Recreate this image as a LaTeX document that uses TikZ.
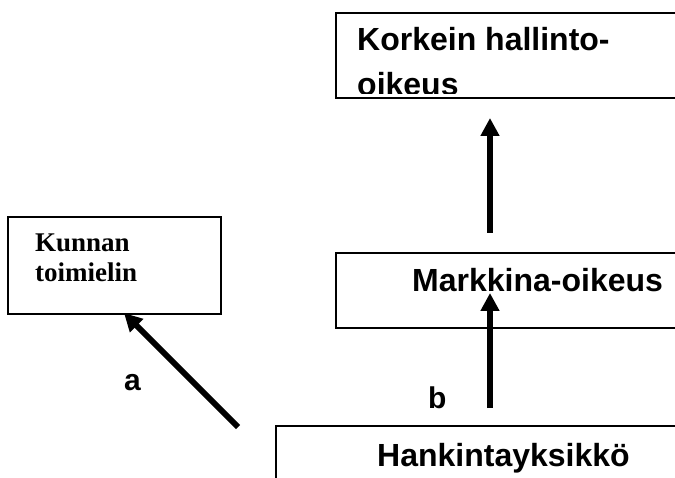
\documentclass[tikz,border=0pt]{standalone}
\usepackage{fontspec}
\setmainfont{Liberation Serif}
\setsansfont{Liberation Sans}
\usetikzlibrary{positioning,shapes,arrows.meta}

\begin{document}
\begin{tikzpicture}
            [x=1pt,y=-1pt,
             box/.style={draw, line width=1.8pt, anchor=north west, inner sep=0pt, outer sep=0pt},
             label/.style={anchor=base west, inner sep=0pt, font=\sffamily\bfseries\fontsize{32}{38}\selectfont},
             serif/.style={anchor=base west, inner sep=0pt, font=\rmfamily\bfseries\fontsize{27}{30}\selectfont},
             uparrow/.style={line width=6pt, -{Triangle[length=18pt,width=18pt]}}]
            \useasboundingbox (0,0) rectangle (675,478);
            \clip (0,0) rectangle (675,478);
            % boxes
            \node[box, minimum width=380pt, minimum height=85pt] (korkein) at (336,13) {};
            \node[box, line width=1.4pt, minimum width=213pt, minimum height=97pt] (kunnan) at (8,217) {};
            \node[box, minimum width=380pt, minimum height=75pt] (markkina) at (336,253) {};
            \node[box, minimum width=420pt, minimum height=80pt] (hankinta) at (276,426) {};
            % texts
            \begin{scope}
              \clip (336,13) rectangle (700,94);
              \node[label] (korkein1) at (357,51) {Korkein hallinto-};
              \node[label] (korkein2) at (357,96) {oikeus};
            \end{scope}
            \node[serif] (kunnan1) at (35,252) {Kunnan};
            \node[serif] (kunnan2) at (35,282) {toimielin};
            \node[label] (markkinat) at (412,292) {Markkina-oikeus};
            \node[label] (hankintat) at (377,466) {Hankintayksikkö};
            \node[label, font=\sffamily\bfseries\fontsize{30}{36}\selectfont] (la) at (124,391) {a};
            \node[label, font=\sffamily\bfseries\fontsize{30}{36}\selectfont] (lb) at (428,408) {b};
            % arrows
            \coordinate (a1) at (238,427);
            \coordinate (a2) at (124,313);
            \coordinate (b1) at (490,408);
            \coordinate (b2) at (490,293);
            \coordinate (c1) at (490,233);
            \coordinate (c2) at (490,118);
            \foreach \from/\to in {a1/a2, b1/b2, c1/c2}
            \draw[uparrow] (\from) -- (\to);
          \end{tikzpicture}
\end{document}
